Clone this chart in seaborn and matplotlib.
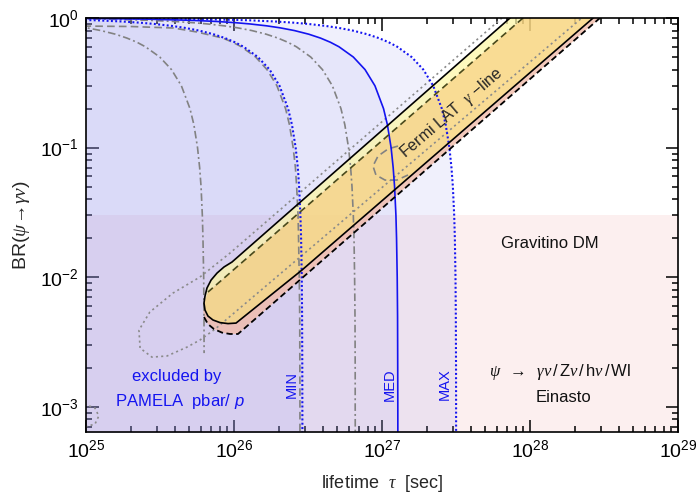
import matplotlib
matplotlib.use("Agg")
import matplotlib.pyplot as plt
import seaborn as sns
import numpy as np
from matplotlib.patches import Polygon
from matplotlib.ticker import LogLocator, NullFormatter

# ---------------------------------------------------------------------------
# data (lifetimes in units of 1e26 s, branching ratios BR(psi -> gamma nu))
# ---------------------------------------------------------------------------
UNIT = 1e26

# PAMELA pbar/p lower bounds on the lifetime (MIN / MED / MAX propagation)
br_grid = [0.995, 0.99, 0.98, 0.96, 0.94, 0.92, 0.90, 0.87, 0.84, 0.80, 0.75,
           0.70, 0.65, 0.60, 0.50, 0.40, 0.30, 0.20, 0.15, 0.10, 0.07, 0.05,
           0.03, 0.02, 0.01, 0.005, 0.002, 0.001, 0.0005]
tau_min = [0.0145, 0.029, 0.058, 0.116, 0.174, 0.232, 0.29, 0.377, 0.464, 0.58,
           0.725, 0.87, 1.015, 1.16, 1.45, 1.74, 2.03, 2.32, 2.465, 2.61, 2.70,
           2.755, 2.81, 2.84, 2.87, 2.885, 2.894, 2.897, 2.90]
tau_med = [0.064, 0.128, 0.256, 0.512, 0.768, 1.024, 1.28, 1.664, 2.048, 2.56,
           3.2, 3.84, 4.48, 5.12, 6.4, 7.68, 8.96, 10.24, 10.88, 11.52, 11.9,
           12.16, 12.42, 12.54, 12.67, 12.74, 12.77, 12.79, 12.8]
tau_max = [0.159, 0.317, 0.634, 1.27, 1.90, 2.54, 3.17, 4.12, 5.07, 6.34,
           7.93, 9.51, 11.1, 12.68, 15.85, 19.02, 22.19, 25.36, 26.95, 28.53,
           29.48, 30.12, 30.75, 31.07, 31.38, 31.54, 31.64, 31.67, 31.68]

# further antiproton bounds (grey curves)
tau_g3 = [0.033, 0.066, 0.132, 0.264, 0.396, 0.528, 0.66, 0.858, 1.056, 1.32,
          1.65, 1.98, 2.31, 2.64, 3.3, 3.96, 4.62, 5.28, 5.61, 5.94, 6.14,
          6.27, 6.40, 6.47, 6.53, 6.57, 6.59, 6.59, 6.60]
br_g1 = [0.995, 0.99, 0.98, 0.96, 0.94, 0.92, 0.90, 0.87, 0.84, 0.80, 0.75,
         0.70, 0.65, 0.60, 0.50, 0.40, 0.30, 0.20, 0.15, 0.10, 0.07, 0.05,
         0.03, 0.02, 0.01, 0.005, 0.0026]
tau_g1 = [0.0032, 0.0063, 0.0126, 0.0252, 0.0378, 0.0504, 0.063, 0.082, 0.101,
          0.126, 0.158, 0.189, 0.221, 0.252, 0.315, 0.378, 0.441, 0.504, 0.536,
          0.567, 0.586, 0.599, 0.611, 0.617, 0.624, 0.627, 0.628]
br_g2 = [0.868, 0.86, 0.837, 0.78, 0.70, 0.65, 0.60, 0.50, 0.40, 0.30, 0.20,
         0.15, 0.10, 0.07, 0.05, 0.03, 0.02, 0.01, 0.005, 0.001, 0.0005]
tau_g2 = [0.08, 0.20, 0.39, 0.56, 0.84, 0.98, 1.12, 1.40, 1.67, 1.95, 2.23,
          2.37, 2.51, 2.60, 2.65, 2.71, 2.73, 2.76, 2.78, 2.79, 2.79]

# Fermi LAT gamma-line region, solid contour
tau_a_up, br_a_up = [73.3, 0.969], [1.0, 0.0131]
tau_a_tip = [0.856, 0.768, 0.700, 0.657, 0.637, 0.627, 0.637, 0.667, 0.721,
             0.804, 0.911, 1.032]
br_a_tip = [0.0120, 0.01077, 0.00951, 0.00826, 0.00716, 0.00632, 0.00558,
            0.00502, 0.00468, 0.00447, 0.00439, 0.00443]
tau_a_lo, br_a_lo = [2.88, 267.0], [0.01137, 1.0]

# Fermi LAT gamma-line region, dashed contour
tau_b_up, br_b_up = [89.7, 0.667], [1.0, 0.00769]
tau_b_tip = [0.627, 0.618, 0.627, 0.667, 0.733, 0.830, 0.940, 1.064]
br_b_tip = [0.00632, 0.00558, 0.00493, 0.00435, 0.00398, 0.00374, 0.00365,
            0.00365]
tau_b_lo, br_b_lo = [297.0], [1.0]

# dotted contour
tau_c = [64.7, 0.94, 0.589, 0.387, 0.270, 0.228, 0.232, 0.279, 0.353, 0.481,
         0.589, 0.745, 224.0]
br_c = [1.0, 0.01537, 0.01004, 0.00755, 0.00539, 0.00391, 0.00284, 0.00242,
        0.00247, 0.00289, 0.00328, 0.00398, 1.0]
tau_e = [0.09, 0.115, 0.122, 0.115, 0.09]
br_e = [0.00108, 0.00098, 0.00085, 0.000737, 0.00068]

# long-dashed contour end
tau_d = [12.82, 10.98, 9.40, 8.69, 9.10, 10.48, 12.62, 14.99]
br_d = [0.1028, 0.0976, 0.0861, 0.0721, 0.0615, 0.0562, 0.0562, 0.0615]

gravitino_br_max = 0.03
x_range = [1e25, 1e29]
y_range = [6.4e-4, 1.0]
x_left_edge = 1e24

# ---------------------------------------------------------------------------
sns.set_theme(style="ticks")
plt.rcParams["font.family"] = ["Liberation Sans", "DejaVu Sans"]
plt.rcParams["mathtext.fontset"] = "custom"
plt.rcParams["mathtext.rm"] = "Liberation Sans"
plt.rcParams["mathtext.it"] = "Liberation Serif:italic"
plt.rcParams["mathtext.sf"] = "Liberation Sans:italic"
plt.rcParams["mathtext.bf"] = "Liberation Sans:bold"
plt.rcParams["lines.scale_dashes"] = False

fig = plt.figure(figsize=(6.98, 4.96), dpi=100)
ax = fig.add_axes([86 / 698, 64 / 496, 592 / 698, 414 / 496])
ax.set_xscale("log")
ax.set_yscale("log")
ax.set_xlim(*x_range)
ax.set_ylim(*y_range)
ax.set_facecolor("white")

def T(v):
    return np.asarray(v, dtype=float) * UNIT

BLUE = "#1414f0"
GREY = "#828282"

# theory region for gravitino DM
ax.axhspan(1e-5, gravitino_br_max, color="#f09696", alpha=0.15, lw=0, zorder=0.5)

# PAMELA excluded regions
shade = "#9696f0"
for tau, a in [(tau_max, 0.14), (tau_med, 0.11), (tau_min, 0.15)]:
    ax.fill_betweenx(br_grid, x_left_edge, T(tau), color=shade, alpha=a,
                     lw=0, zorder=1)

# Fermi LAT line regions
def poly(taus, brs, color, alpha):
    pts = np.column_stack([np.concatenate([T(t) for t in taus]),
                           np.concatenate([np.asarray(b, float) for b in brs])])
    p = Polygon(pts, closed=True, facecolor=color, edgecolor="none",
                alpha=alpha, zorder=2)
    ax.add_patch(p)

J = 5  # index where the dashed upper contour meets the solid tip
# pale part: between solid upper and dashed upper contours
poly([tau_a_up, tau_a_tip[:J + 1], tau_b_up[::-1]],
     [br_a_up, br_a_tip[:J + 1], br_b_up[::-1]], "#fdf7a6", 0.72)
# overlap of both regions
poly([tau_b_up, tau_a_tip[J:], tau_a_lo],
     [br_b_up, br_a_tip[J:], br_a_lo], "#f8d681", 0.85)
# dashed-only strip
poly([tau_a_lo[::-1], tau_a_tip[J + 1:][::-1], tau_b_tip[1:], tau_b_lo],
     [br_a_lo[::-1], br_a_tip[J + 1:][::-1], br_b_tip[1:], br_b_lo],
     "#f1bcaa", 0.8)

def line(tau, br, **kw):
    sns.lineplot(x=T(tau), y=np.asarray(br, float), sort=False, estimator=None,
                 ax=ax, legend=False, zorder=3, **kw)

# grey antiproton curves
dashdot = (0, (5.5, 2.2, 1.4, 2.2))
longdash = (0, (5.5, 3.0))
line(tau_g1, br_g1, color=GREY, lw=1.2, linestyle=dashdot)
line(tau_g3, br_grid, color=GREY, lw=1.2, linestyle=dashdot)
line(tau_g2, br_g2, color=GREY, lw=1.2, linestyle=longdash)
line(tau_d, br_d, color=GREY, lw=1.2, linestyle=longdash)

# dotted contours
line(tau_c, br_c, color="#8a8a8a", lw=1.2, linestyle=(0, (1.5, 2.3)))
line(tau_e, br_e, color="#8a8a8a", lw=1.2, linestyle=(0, (1.5, 2.3)))

# PAMELA bounds
line(tau_min, br_grid, color=BLUE, lw=1.5, linestyle=(0, (1.4, 1.7)))
line(tau_max, br_grid, color=BLUE, lw=1.5, linestyle=(0, (1.4, 1.7)))
line(tau_med, br_grid, color=BLUE, lw=1.2, linestyle="-")

# Fermi LAT contours
line(tau_a_up + tau_a_tip + tau_a_lo, br_a_up + br_a_tip + br_a_lo,
     color="black", lw=1.2, linestyle="-")
line(tau_b_up, br_b_up, color="#4a4a1c", lw=1.2, linestyle=(0, (5.0, 3.0)))
line(tau_b_tip[2:] + tau_b_lo, br_b_tip[2:] + br_b_lo, color="black", lw=1.3,
     linestyle=(0, (4.5, 2.5)))

# labels inside the plot
tr = ax.transAxes
ax.text(0.154, 0.133, "excluded by", transform=tr, color=BLUE, fontsize=12,
        ha="center", va="center", zorder=4)
ax.text(0.159, 0.0725, r"PAMELA  pbar/ $\mathsf{p}$", transform=tr, color=BLUE,
        fontsize=12, ha="center", va="center", zorder=4)
for xf, s in [(0.348, "MIN"), (0.5135, "MED"), (0.606, "MAX")]:
    ax.text(xf, 0.115, s, transform=tr, color=BLUE, fontsize=10.5,
            rotation=90, ha="center", va="center", zorder=4)
ax.text(0.6216, 0.7633, "Fermi LAT  $\\gamma$ \u2212line", transform=tr,
        fontsize=11.5, rotation=40.5, rotation_mode="anchor", ha="center",
        va="baseline", zorder=4)
ax.text(0.784, 0.4565, "Gravitino DM", transform=tr, fontsize=12,
        ha="center", va="center", color="#111111", zorder=4)
ax.text(0.8007, 0.145,
        r"$\psi\ \ \rightarrow\ \ \gamma\nu\,/\,\mathrm{Z}\nu\,/\,\mathrm{h}\nu\,/\,\mathrm{Wl}$",
        transform=tr, fontsize=12, ha="center", va="center", color="#111111",
        zorder=4)
ax.text(0.806, 0.0845, "Einasto", transform=tr, fontsize=12, ha="center",
        va="center", color="#111111", zorder=4)

# axes styling
ax.xaxis.set_major_locator(LogLocator(base=10, numticks=10))
ax.xaxis.set_minor_locator(LogLocator(base=10, subs=np.arange(2, 10), numticks=20))
ax.yaxis.set_major_locator(LogLocator(base=10, numticks=10))
ax.yaxis.set_minor_locator(LogLocator(base=10, subs=np.arange(2, 10), numticks=20))
ax.xaxis.set_minor_formatter(NullFormatter())
ax.yaxis.set_minor_formatter(NullFormatter())
ax.tick_params(which="both", direction="in", top=True, right=True,
               labelsize=14, width=1.1, color="black", labelcolor="black")
ax.tick_params(which="major", length=9, pad=5)
ax.tick_params(which="minor", length=4.5)
for s in ax.spines.values():
    s.set_linewidth(1.2)
    s.set_color("black")
    s.set_visible(True)
    s.set_zorder(5)

ax.set_xlabel(r"lifetime  $\tau$  [sec]", fontsize=13, labelpad=9)
ax.set_ylabel(r"BR$(\psi\!\rightarrow\!\gamma\nu)$", fontsize=14, labelpad=6)

fig.savefig("out.png", dpi=100)
